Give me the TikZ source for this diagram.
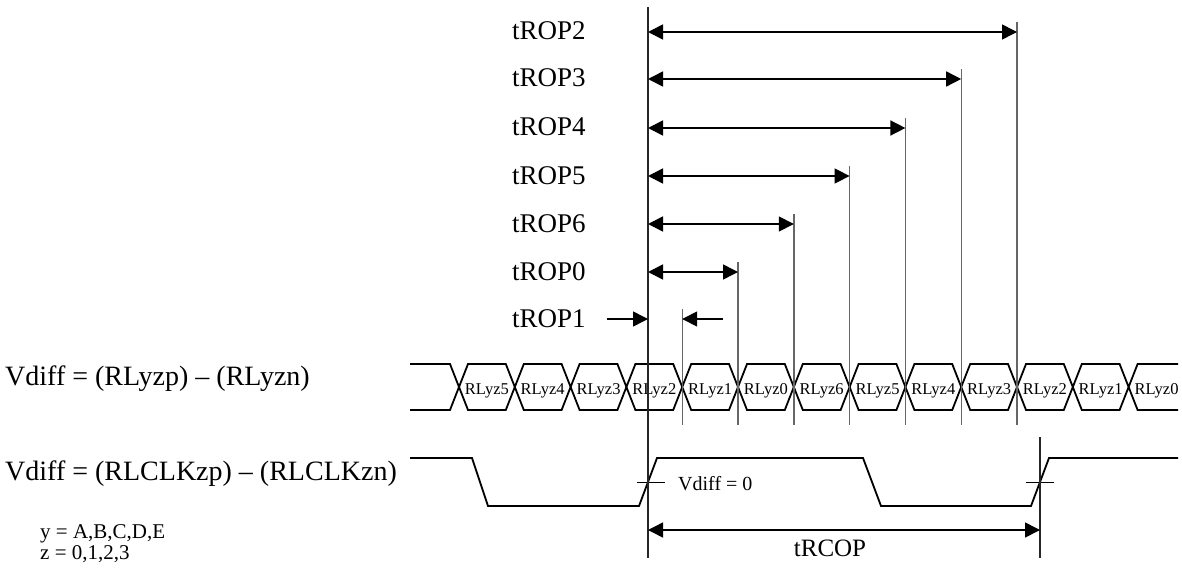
\documentclass[tikz,border=0pt]{standalone}
\usepackage{fontspec}
\setmainfont{Liberation Serif}
\usetikzlibrary{arrows.meta}
\begin{document}
\begin{tikzpicture}[x=1pt,y=-1pt,
  wave/.style={line width=1.8pt, line join=miter, black},
  tick/.style={line width=1pt, black},
  guide/.style={line width=1.4pt, black!60},
  mainguide/.style={line width=1.1pt, black!85},
  dim/.style={line width=1.5pt, black, {Triangle[length=15pt,width=15pt]}-{Triangle[length=15pt,width=15pt]}},
  single/.style={line width=1.5pt, black, -{Triangle[length=15pt,width=15pt]}},
  big/.style={inner sep=0pt, anchor=base west, font=\fontsize{28}{30}\selectfont},
  trop/.style={inner sep=0pt, anchor=base west, font=\fontsize{27}{30}\selectfont},
  rl/.style={inner sep=0pt, anchor=base, font=\fontsize{16.5}{18}\selectfont},
  mid/.style={inner sep=0pt, anchor=base west, font=\fontsize{21}{24}\selectfont},
]
\useasboundingbox (0,0) rectangle (1182,572);

% left labels
\node[big] (lab1) at (5,385) {Vdiff = (RLyzp) -- (RLyzn)};
\node[big] (lab2) at (5,480) {Vdiff = (RLCLKzp) -- (RLCLKzn)};
\node[mid] (ly) at (40,538) {y = A,B,C,D,E};
\node[mid] (lz) at (40,559) {z = 0,1,2,3};

% data bus
\draw[wave] (410,364) \foreach \k in {0,...,12}{ -- ({459+55.8*\k-9},364) -- ({459+55.8*\k},387) -- ({459+55.8*\k+9},364) } -- (1178,364);
\draw[wave] (410,410) \foreach \k in {0,...,12}{ -- ({459+55.8*\k-9},410) -- ({459+55.8*\k},387) -- ({459+55.8*\k+9},410) } -- (1178,410);
\foreach \lab [count=\i from 0] in {5,4,3,2,1,0,6,5,4,3,2,1,0}
  \node[rl] (rl\i) at ({459+55.8*\i+27.9},394) {RLyz\lab};

% clock
\draw[wave] (410,458) -- (472,458) -- (488,506) -- (639,506) -- (657,458) -- (863,458) -- (881,506) -- (1031,506) -- (1049,458) -- (1178,458);
\coordinate (t1a) at (637,482); \coordinate (t1b) at (665,482);
\coordinate (t2a) at (1026,482); \coordinate (t2b) at (1054,482);
\draw[tick] (t1a) -- (t1b);
\draw[tick] (t2a) -- (t2b);
\node[mid, font=\fontsize{20}{22}\selectfont] (vz) at (678,490) {Vdiff = 0};

% main guide lines
\coordinate (gtop) at (648,7); \coordinate (gbot) at (648,558);
\draw[mainguide] (gtop) -- (gbot);
\coordinate (g2top) at (1040,437); \coordinate (g2bot) at (1040,558);
\draw[mainguide] (g2top) -- (g2bot);

% tROP guides and arrows
\foreach \name/\k/\y in {2/10/32, 3/9/79, 4/8/128, 5/7/176, 6/6/224, 0/5/272}{
  \coordinate (s\name) at (648,\y);
  \coordinate (e\name) at ({459+55.8*\k},\y);
  \coordinate (v\name) at ({459+55.8*\k},\y-10);
  \coordinate (w\name) at ({459+55.8*\k},425);
  \draw[guide] (v\name) -- (w\name);
  \draw[dim] (s\name) -- (e\name);
  \node[trop] (tl\name) at (512,\y+8) {tROP\name};
}
% tROP1
\coordinate (v1) at ({459+55.8*4},309);
\coordinate (w1) at ({459+55.8*4},425);
\draw[guide] (v1) -- (w1);
\coordinate (a1s) at (607,319); \coordinate (a1e) at (648,319);
\coordinate (b1s) at (723,319); \coordinate (b1e) at ({459+55.8*4},319);
\draw[single] (a1s) -- (a1e);
\draw[single] (b1s) -- (b1e);
\node[trop] (tl1) at (512,327) {tROP1};

% tRCOP
\coordinate (rc1) at (648,530); \coordinate (rc2) at (1040,530);
\draw[dim] (rc1) -- (rc2);
\node[inner sep=0pt, anchor=base, font=\fontsize{25}{28}\selectfont] (trcop) at (830,556) {tRCOP};
\end{tikzpicture}
\end{document}
